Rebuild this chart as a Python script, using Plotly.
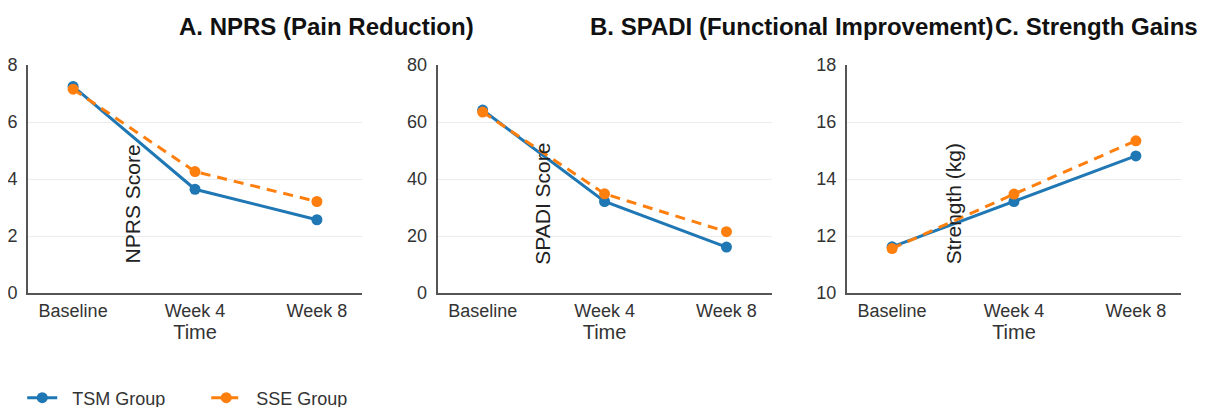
import plotly.graph_objects as go

# ---- data ----
time_points = ["Baseline", "Week 4", "Week 8"]

nprs_tsm = [7.25, 3.64, 2.57]
nprs_sse = [7.15, 4.26, 3.21]

spadi_tsm = [64.2, 32.1, 16.1]
spadi_sse = [63.5, 34.8, 21.5]

strength_tsm = [11.62, 13.21, 14.81]
strength_sse = [11.56, 13.47, 15.34]

panel_titles = ["A. NPRS (Pain Reduction)", "B. SPADI (Functional Improvement)", "C. Strength Gains"]
y_titles = ["NPRS Score", "SPADI Score", "Strength (kg)"]
y_ranges = [[0, 8], [0, 80], [10, 18]]
y_dticks = [2, 20, 2]

series_names = ["TSM Group", "SSE Group"]
colors = ["#1f77b4", "#ff7f0e"]

FONT = "Liberation Sans, Arial, sans-serif"
PAD = "\u00a0\u00a0"

fig = go.Figure()

panels = [(nprs_tsm, nprs_sse), (spadi_tsm, spadi_sse), (strength_tsm, strength_sse)]
for i, (tsm, sse) in enumerate(panels):
    ax = "" if i == 0 else str(i + 1)
    fig.add_trace(go.Scatter(
        x=time_points, y=tsm, name=PAD + series_names[0], mode="lines+markers",
        line=dict(color=colors[0], width=3),
        marker=dict(size=11, color=colors[0]),
        xaxis="x" + ax, yaxis="y" + ax, showlegend=(i == 0), legendgroup="tsm"))
    fig.add_trace(go.Scatter(
        x=time_points, y=sse, name=PAD + series_names[1], mode="lines+markers",
        line=dict(color=colors[1], width=3, dash="10px,7px"),
        marker=dict(size=11, color=colors[1]),
        xaxis="x" + ax, yaxis="y" + ax, showlegend=(i == 0), legendgroup="sse"))

domains = [[0.0, 0.2897], [0.3552, 0.6449], [0.7103, 1.0]]
layout = {}
for i in range(3):
    ax = "" if i == 0 else str(i + 1)
    layout["xaxis" + ax] = dict(
        domain=domains[i], anchor="y" + ax, type="category", automargin=False,
        range=[-0.37, 2.37], showgrid=False, zeroline=False,
        showline=True, linecolor="#555", linewidth=2, ticks="",
        tickfont=dict(size=18, color="#333", family=FONT),
        title=dict(text="Time", font=dict(size=20, color="#333", family=FONT), standoff=2))
    layout["yaxis" + ax] = dict(
        domain=[0, 1], anchor="x" + ax, range=y_ranges[i], dtick=y_dticks[i],
        automargin=False,
        showgrid=True, gridcolor="#ececec", gridwidth=1, zeroline=False,
        showline=True, linecolor="#555", linewidth=2, ticks="",
        ticklabelstandoff=5,
        tickfont=dict(size=18, color="#333", family=FONT))

annotations = []
title_x = [0.2585, 0.6626, 0.9268]
for i in range(3):
    annotations.append(dict(
        text="<b>%s</b>" % panel_titles[i], xref="paper", yref="paper",
        x=title_x[i], y=1.1667, xanchor="center", yanchor="middle", showarrow=False,
        font=dict(size=24, color="#111", family=FONT)))
ytitle_x = [0.0905, 0.4455, 0.8025]
for i in range(3):
    annotations.append(dict(
        text=y_titles[i], xref="paper", yref="paper", textangle=-90,
        x=ytitle_x[i], y=0.39, xanchor="center", yanchor="middle", showarrow=False,
        font=dict(size=21, color="#222", family=FONT)))

fig.update_layout(
    template="none",
    width=1205, height=450,
    margin=dict(l=20, r=32, t=57, b=165),
    paper_bgcolor="white", plot_bgcolor="white",
    font=dict(family=FONT, size=18, color="#333"),
    annotations=annotations,
    legend=dict(orientation="h", x=-0.005, xanchor="left", y=-0.4605, yanchor="middle",
                font=dict(size=18, color="#333", family=FONT), entrywidth=139),
    **layout)

fig.write_html("out.html")
